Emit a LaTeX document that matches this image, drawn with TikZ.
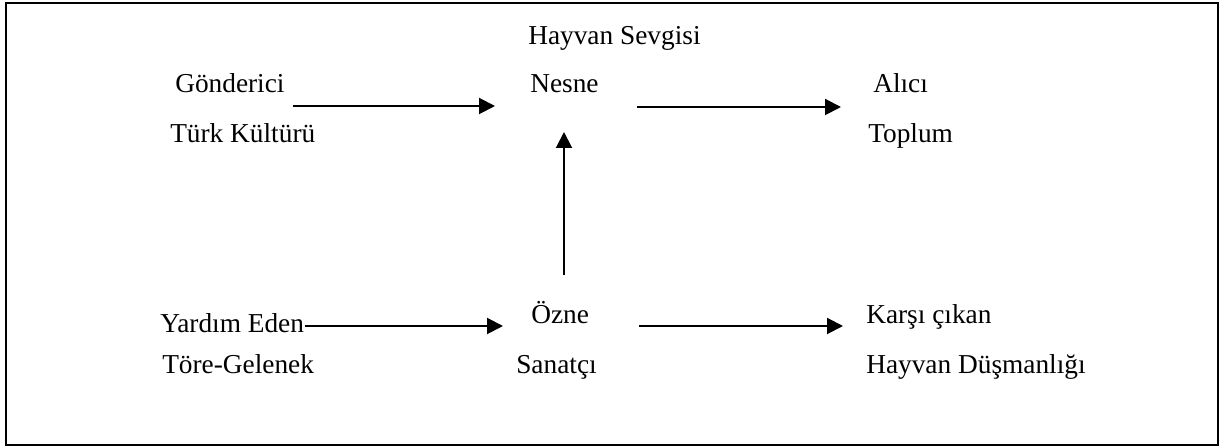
\documentclass[tikz,border=0pt]{standalone}
\usepackage{fontspec}
\setmainfont{Liberation Serif}
\usetikzlibrary{arrows.meta}
\tikzset{
  lbl/.style={inner sep=0pt, anchor=base west, font=\fontsize{20.5}{24}\selectfont},
  arr/.style={line width=1.5pt, -{Triangle[length=12pt,width=12pt]}},
  frame/.style={line width=1.5pt}
}
\begin{document}
\begin{tikzpicture}[x=0.75pt,y=-0.75pt]
\useasboundingbox (0,0) rectangle (1221,448);
\draw[frame] (6,3) rectangle (1218,445);
% top row
\node[lbl] (sevgi) at (528,45) {Hayvan Sevgisi};
\node[lbl] (gond) at (175,93) {Gönderici};
\node[lbl] (turk) at (170,143) {Türk Kültürü};
\node[lbl] (nesne) at (530,93) {Nesne};
\node[lbl] (alici) at (873,93) {Alıcı};
\node[lbl] (toplum) at (868,143) {Toplum};
% bottom row
\node[lbl] (yardim) at (160,333) {Yardım Eden};
\node[lbl] (tore) at (162,374) {Töre-Gelenek};
\node[lbl] (ozne) at (531,324) {Özne};
\node[lbl] (sanatci) at (516,374) {Sanatçı};
\node[lbl] (karsi) at (866,324) {Karşı çıkan};
\node[lbl] (dusman) at (866,374) {Hayvan Düşmanlığı};
% connectors
\draw[arr] ([shift={(8,13)}]gond.base east) -- ([shift={(-35,13)}]nesne.base west);
\draw[arr] ([shift={(38,14)}]nesne.base east) -- ([shift={(-32,14)}]alici.base west);
\draw[arr] ([shift={(33,-49)}]ozne.base west) -- ([shift={(34,39)}]nesne.base west);
\draw[arr] ([shift={(1,-7)}]yardim.base east) -- ([shift={(-28,2)}]ozne.base west);
\draw[arr] ([shift={(50,2)}]ozne.base east) -- ([shift={(-23,2)}]karsi.base west);
\end{tikzpicture}
\end{document}
